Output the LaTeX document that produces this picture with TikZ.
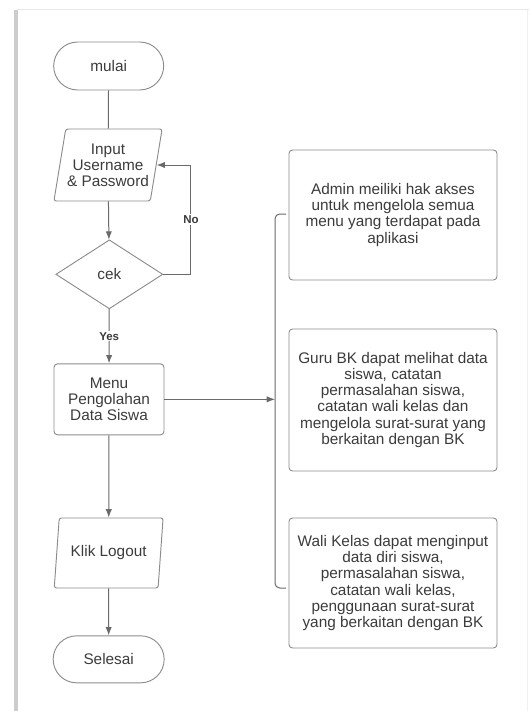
\documentclass[tikz,border=0pt]{standalone}
\usepackage{fontspec}
\setmainfont{Liberation Sans}
\usetikzlibrary{arrows,arrows.meta,calc,positioning,shapes.geometric,shapes.misc}
\definecolor{linegray}{HTML}{6A6A6A}
\definecolor{boxgray}{HTML}{8C8C8C}
\definecolor{textgray}{HTML}{3B3B3B}
\definecolor{shadowgray}{HTML}{CDCDCD}

\begin{document}
\begin{tikzpicture}[>={Latex[length=2.5mm,width=1.9mm]},
	body/.style={font=\fontsize{13.1}{13.7}\selectfont, text=textgray, align=center, inner sep=0pt, draw=boxgray, line width=0.8pt},
	term/.style={body, rounded rectangle, minimum width=3.3cm, minimum height=1.44cm},
	io/.style={body, trapezium, trapezium left angle=75, trapezium right angle=105,
		trapezium stretches=true, minimum width=3.27cm, rounded corners=2pt},
	proc/.style={body, rounded corners=3pt},
	cond/.style={body, diamond, minimum width=3.21cm, minimum height=2.07cm},
	tag/.style={font=\fontsize{9.8}{11}\selectfont\bfseries, text=textgray, fill=white, inner sep=1pt}]
	\useasboundingbox (0,0) rectangle (15.87,-21.33);

	% page edge
	\draw[shadowgray, line width=0.12cm] (0.47,-0.3) -- (0.47,-21.33);
	\draw[gray!18, line width=0.05cm] (0.5,-0.29) -- (15.87,-0.29);
	\draw[gray!12, line width=0.04cm] (15.83,-0.29) -- (15.83,-21.33);

	\begin{scope}[linegray, line width=0.85pt]
		% flow
		\draw (3.26,-1.98) node[term](mulai) {mulai};
		\draw (3.24,-4.95) node[io, minimum height=2.16cm](input)
					{Input\\Username\\\& Password};
		\draw (3.28,-8.23) node[cond](cek) {cek};
		\draw (3.27,-11.98) node[proc, minimum width=3.3cm, minimum height=2.13cm](menu)
					{Menu\\Pengolahan\\Data Siswa};
		\draw (3.26,-16.59) node[io, minimum height=2.1cm](klik) {Klik Logout};
		\draw (3.26,-19.78) node[term, minimum width=3.33cm, minimum height=1.41cm](selesai) {Selesai};

		% roles
		\draw (11.79,-6.45) node[proc, minimum width=6.24cm, minimum height=3.9cm](admin)
					{Admin meiliki hak akses\\untuk mengelola semua\\menu yang terdapat pada\\aplikasi};
		\draw (11.79,-12.0) node[proc, minimum width=6.24cm, minimum height=4.26cm](guru)
					{Guru BK dapat melihat data\\siswa, catatan\\permasalahan siswa,\\catatan wali kelas dan\\mengelola surat-surat yang\\berkaitan dengan BK};
		\draw (11.79,-17.49) node[proc, minimum width=6.24cm, minimum height=3.9cm](wali)
					{Wali Kelas dapat menginput\\data diri siswa,\\permasalahan siswa,\\catatan wali kelas,\\penggunaan surat-surat\\yang berkaitan dengan BK};

		\coordinate (brtop) at (8.58,-6.42);
		\coordinate (bb) at (8.25,-17.64);
		\coordinate (brbot) at (8.58,-17.64);

		\draw (mulai) -- (input);
		\draw [->] (input) -- (cek);
		\draw [->] (cek) -- (menu) node[midway,tag] {Yes};
		\draw [->] (cek.east) -- ++(0.83,0) |- (input.east) node[pos=0.25,tag] {No};
		\draw [->] (menu) -- (klik);
		\draw [->] (klik) -- (selesai);
		\draw [->] (menu) -- (menu -| bb);
		\draw [rounded corners=4pt] (brtop) -| (bb) -- (brbot);
	\end{scope}
\end{tikzpicture}
\end{document}
